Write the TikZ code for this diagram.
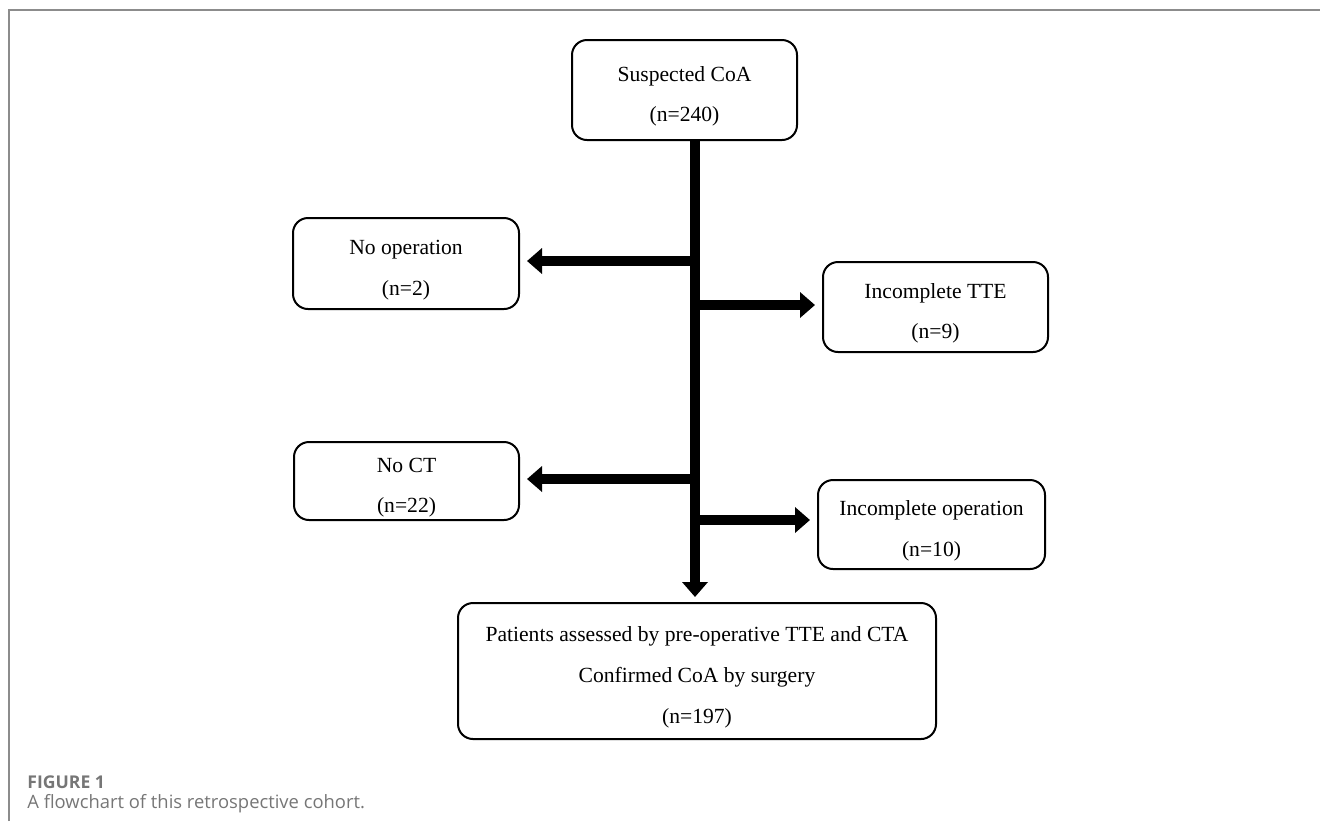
\documentclass[tikz,border=0pt]{standalone}
\usepackage{fontspec}
\setmainfont{Liberation Serif}
\newfontfamily\capfont{Open Sans}
\usetikzlibrary{arrows.meta}

\definecolor{framegray}{RGB}{140,140,140}
\definecolor{capgray}{RGB}{118,118,118}

\tikzset{
    stagebox/.style={draw=black, line width=1pt, rounded corners=7.5pt,
        align=center, inner sep=0pt, text depth=0pt, text height=31.7pt,
        font=\fontsize{10.8}{20.3}\selectfont},
    threelines/.style={text height=52pt},
    thickarrow/.style={line width=5pt, black,
        -{Triangle[width=12.5pt, length=7.5pt]}, shorten >=3.5pt},
    trunkline/.style={thickarrow, shorten >=2.5pt},
    figframe/.style={draw=framegray, line width=0.75pt}
}

\begin{document}
\begin{tikzpicture}[x=0.5pt, y=-0.5pt]
        \useasboundingbox (0,0) rectangle (1320,821);
        \draw 
            [figframe] (9,821)--(9,10)--(1320,10);
        \node 
            [stagebox, minimum width=112.5pt, minimum height=50pt] (susp) at (684.5,90)
            {Suspected CoA\\(n=240)};
        \node 
            [stagebox, minimum width=113pt, minimum height=45.5pt] (noop) at (406,263.5)
            {No operation\\(n=2)};
        \node 
            [stagebox, minimum width=112.5pt, minimum height=45pt] (itte) at (935.5,307)
            {Incomplete TTE\\(n=9)};
        \node 
            [stagebox, minimum width=112.5pt, minimum height=39pt] (noct) at (406.5,481)
            {No CT\\(n=22)};
        \node 
            [stagebox, minimum width=113.5pt, minimum height=44.5pt] (iop) at (931.5,524.5)
            {Incomplete operation\\(n=10)};
        \node 
            [stagebox, threelines, minimum width=239pt, minimum height=68pt] (pat) at (697,671)
            {Patients assessed by pre-operative TTE and CTA\\Confirmed CoA by surgery\\(n=197)};
        % branch points on the main line
        \coordinate (b1) at (695,261);
        \coordinate (b2) at (695,305);
        \coordinate (b3) at (695,479);
        \coordinate (b4) at (695,520);
        \draw 
            [trunkline] (susp.south -| b1)--(pat.north -| b1);
        \draw 
            [thickarrow] (b1)--(b1 -| noop.east);
        \draw 
            [thickarrow] (b2)--(b2 -| itte.west);
        \draw 
            [thickarrow] (b3)--(b3 -| noct.east);
        \draw 
            [thickarrow] (b4)--(b4 -| iop.west);
        \node 
            [anchor=west, inner sep=0pt, text=capgray, font=\capfont\bfseries\fontsize{8.8}{10}\selectfont] (figlab) at (27,782)
            {FIGURE 1};
        \node 
            [anchor=west, inner sep=0pt, text=capgray, font=\capfont\fontsize{9.2}{10}\selectfont] (figcap) at (27,804)
            {A flowchart of this retrospective cohort.};
    \end{tikzpicture}
\end{document}
